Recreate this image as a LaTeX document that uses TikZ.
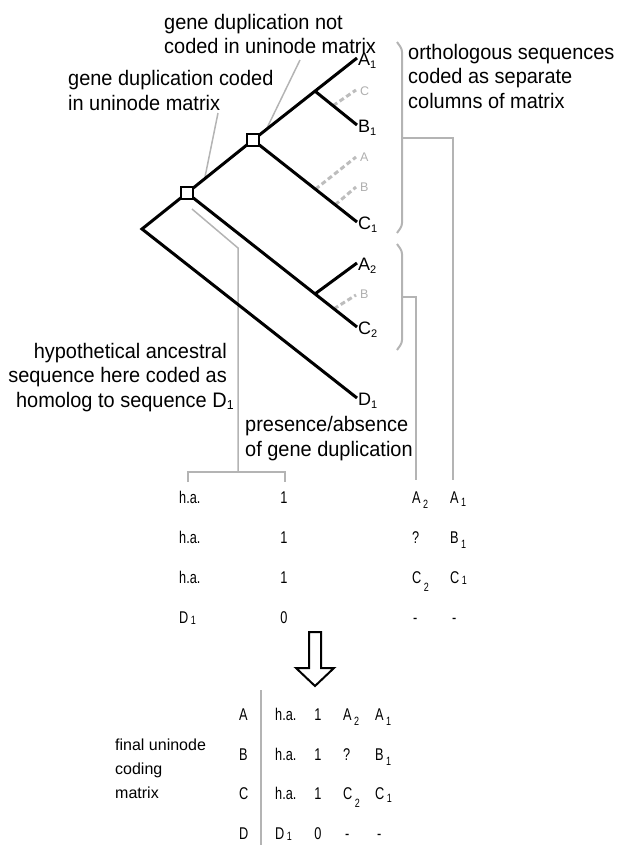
\documentclass[tikz,border=0pt]{standalone}
\usepackage{fontspec}
\setmainfont{Liberation Sans}
\newfontfamily\labelfont{Liberation Sans}[FakeStretch=0.95]
\newfontfamily\narrowfont{Liberation Sans}[FakeStretch=0.75]
\usetikzlibrary{calc}
\definecolor{linegray}{HTML}{B4B4B4}
\definecolor{dashgray}{HTML}{BDBDBD}
\definecolor{ghostgray}{HTML}{AFAFAF}
\newcommand\tsub[1]{\raisebox{-2.5pt}{\fontsize{11}{11}\selectfont #1}}
\newcommand\hsub[1]{\raisebox{-2pt}{\fontsize{13}{13}\selectfont #1}}
\newcommand\msub[2][5pt]{\kern2.5pt\raisebox{-#1}{\fontsize{12}{12}\selectfont #2}}
\begin{document}
\begin{tikzpicture}[x=1pt,y=-1pt,
 branch/.style={line width=3pt},
 ghostline/.style={line width=3pt, dash pattern=on 5pt off 3pt, draw=dashgray},
 pointer/.style={line width=1.5pt, draw=linegray},
 bracket/.style={line width=2pt, draw=linegray, rounded corners=3pt},
 dupbox/.style={rectangle, draw, fill=white, line width=2.5pt, minimum size=12pt, inner sep=0pt},
 biglabel/.style={font=\labelfont\fontsize{21}{24.5}\selectfont, inner sep=0pt, align=left, anchor=base west},
 tiplabel/.style={font=\fontsize{18}{20}\selectfont, inner sep=0pt, anchor=base west},
 ghostlabel/.style={font=\fontsize{12.5}{14}\selectfont, text=ghostgray, inner sep=0pt, anchor=base west},
 cell/.style={font=\narrowfont\fontsize{17}{20}\selectfont, inner sep=0pt, anchor=base west},
 cellc/.style={cell, anchor=base},
 smalllabel/.style={font=\fontsize{16}{24}\selectfont, inner sep=0pt, align=left, anchor=base west}]
\useasboundingbox (0,0) rectangle (619,846);

% ---- tree coordinates
\coordinate (R) at (142,229);
\coordinate (S1) at (187,193);
\coordinate (S2) at (253,140);
\coordinate (tA1) at (357,58);
\coordinate (tB1) at (357,125);
\coordinate (tC1) at (357,222);
\coordinate (tA2) at (357,263);
\coordinate (tC2) at (357,327);
\coordinate (tD1) at (357,398);
\coordinate (F1) at ($(S2)!0.596!(tA1)$);
\coordinate (F2) at ($(S1)!0.753!(tC2)$);

% ghost (missing) branches
\coordinate (gC0) at ($(F1)!0.43!(tB1)$);  \coordinate (gC) at (356,90);
\coordinate (gA0) at ($(S2)!0.60!(tC1)$);  \coordinate (gA) at (356,157);
\coordinate (gB0) at ($(S2)!0.79!(tC1)$);  \coordinate (gB) at (356,187);
\coordinate (gB20) at ($(F2)!0.45!(tC2)$); \coordinate (gB2) at (356,295);
\draw[ghostline] (gC0) -- (gC);
\draw[ghostline] (gA0) -- (gA);
\draw[ghostline] (gB0) -- (gB);
\draw[ghostline] (gB20) -- (gB2);
\node[ghostlabel] (lgC) at (360,95) {C};
\node[ghostlabel] (lgA) at (360,161) {A};
\node[ghostlabel] (lgB) at (360,191) {B};
\node[ghostlabel] (lgB2) at (360,298) {B};

% ---- gray pointers and brackets
\coordinate (p1a) at (300,60);  \coordinate (p1b) at (267,128);
\coordinate (p2a) at (218,113); \coordinate (p2b) at (205,177);
\draw[pointer] (p1a) -- (p1b);
\draw[pointer] (p2a) -- (p2b);
\coordinate (p3a) at (192,209); \coordinate (p3b) at (238,248); \coordinate (p3c) at (238,472);
\coordinate (brL) at (188,482); \coordinate (brR) at (285,482);
\draw[pointer] (p3a) -- (p3b) -- (p3c);
\draw[bracket, rounded corners=0pt] (brL) |- (p3c) -| (brR);

\draw[bracket] (397,42) -- (402,49) -- (402,226) -- (397,233);
\coordinate (b1tip) at (402,138); \coordinate (b1col) at (453,480);
\draw[bracket, rounded corners=0pt] (b1tip) -| (b1col);
\draw[bracket] (397,244) -- (402,251) -- (402,343) -- (397,350);
\coordinate (b2tip) at (402,297); \coordinate (b2col) at (416,480);
\draw[bracket, rounded corners=0pt] (b2tip) -| (b2col);

% ---- tree
\draw[branch] (tD1) -- (R) -- (S1) -- (S2) -- (tA1);
\draw[branch] (S1) -- (tC2);
\draw[branch] (S2) -- (tC1);
\draw[branch] (F1) -- (tB1);
\draw[branch] (F2) -- (tA2);
\node[dupbox] (sq1) at (S1) {};
\node[dupbox] (sq2) at (S2) {};

\node[tiplabel] (lA1) at (358,65.5) {A\tsub{1}};
\node[tiplabel] (lB1) at (358,132.5) {B\tsub{1}};
\node[tiplabel] (lC1) at (358,229.5) {C\tsub{1}};
\node[tiplabel] (lA2) at (358,270.5) {A\tsub{2}};
\node[tiplabel] (lC2) at (358,334.5) {C\tsub{2}};
\node[tiplabel] (lD1) at (358,405.5) {D\tsub{1}};

% ---- big labels (anchored at the baseline of their last line)
\node[biglabel] (notcoded) at (164,53.5) {gene duplication not\\coded in uninode matrix};
\node[biglabel] (coded) at (68,110) {gene duplication coded\\in uninode matrix};
\node[biglabel] (ortho) at (408,108) {orthologous sequences\\coded as separate\\columns of matrix};
\node[biglabel, align=right, anchor=base east] (hypo) at (227,407) {hypothetical ancestral\\sequence here coded as\\homolog to sequence D\rlap{\hsub{1}}};
\node[biglabel] (pres) at (245,456) {presence/absence\\of gene duplication};

% ---- upper matrix
\node[cell] (u11) at (179,503) {h.a.};
\node[cellc] (u12) at (284,503) {1};
\node[cell] (u13) at (412,503) {A\msub{2}};
\node[cell] (u14) at (450,503) {A\msub[3pt]{1}};
\node[cell] (u21) at (179,543) {h.a.};
\node[cellc] (u22) at (284,543) {1};
\node[cell] (u23) at (412,543) {?};
\node[cell] (u24) at (450,543) {B\msub{1}};
\node[cell] (u31) at (179,583) {h.a.};
\node[cellc] (u32) at (284,583) {1};
\node[cell] (u33) at (412,583) {C\msub[8pt]{2}};
\node[cell] (u34) at (450,583) {C\msub[1pt]{1}};
\node[cell] (u41) at (179,623) {D\msub[1pt]{1}};
\node[cellc] (u42) at (284,623) {0};
\node[cell] (u43) at (413,623) {-};
\node[cell] (u44) at (452,623) {-};

% ---- arrow
\draw[line width=2pt, fill=white, line join=miter]
  (309,632) -- (321,632) -- (321,668) -- (334,668) -- (315,686) -- (296,668) -- (309,668) -- cycle;

% ---- final matrix
\node[smalllabel] (final) at (115,798) {final uninode\\coding\\matrix};
\coordinate (vt) at (261,690); \coordinate (vb) at (261,845);
\draw[line width=1.2pt, draw=linegray] (vt) -- (vb);
\node[cell] (rA) at (239,720) {A};
\node[cell] (rB) at (239,760) {B};
\node[cell] (rC) at (239,799) {C};
\node[cell] (rD) at (239,839) {D};
\node[cell] (f11) at (275,720) {h.a.};
\node[cellc] (f12) at (318,720) {1};
\node[cell] (f13) at (343,720) {A\msub{2}};
\node[cell] (f14) at (375,720) {A\msub{1}};
\node[cell] (f21) at (275,760) {h.a.};
\node[cellc] (f22) at (318,760) {1};
\node[cell] (f23) at (343,760) {?};
\node[cell] (f24) at (375,760) {B\msub{1}};
\node[cell] (f31) at (275,799) {h.a.};
\node[cellc] (f32) at (318,799) {1};
\node[cell] (f33) at (343,799) {C\msub[8pt]{2}};
\node[cell] (f34) at (375,799) {C\msub[3pt]{1}};
\node[cell] (f41) at (275,839) {D\msub[1pt]{1}};
\node[cellc] (f42) at (318,839) {0};
\node[cell] (f43) at (345,839) {-};
\node[cell] (f44) at (377,839) {-};
\end{tikzpicture}
\end{document}
